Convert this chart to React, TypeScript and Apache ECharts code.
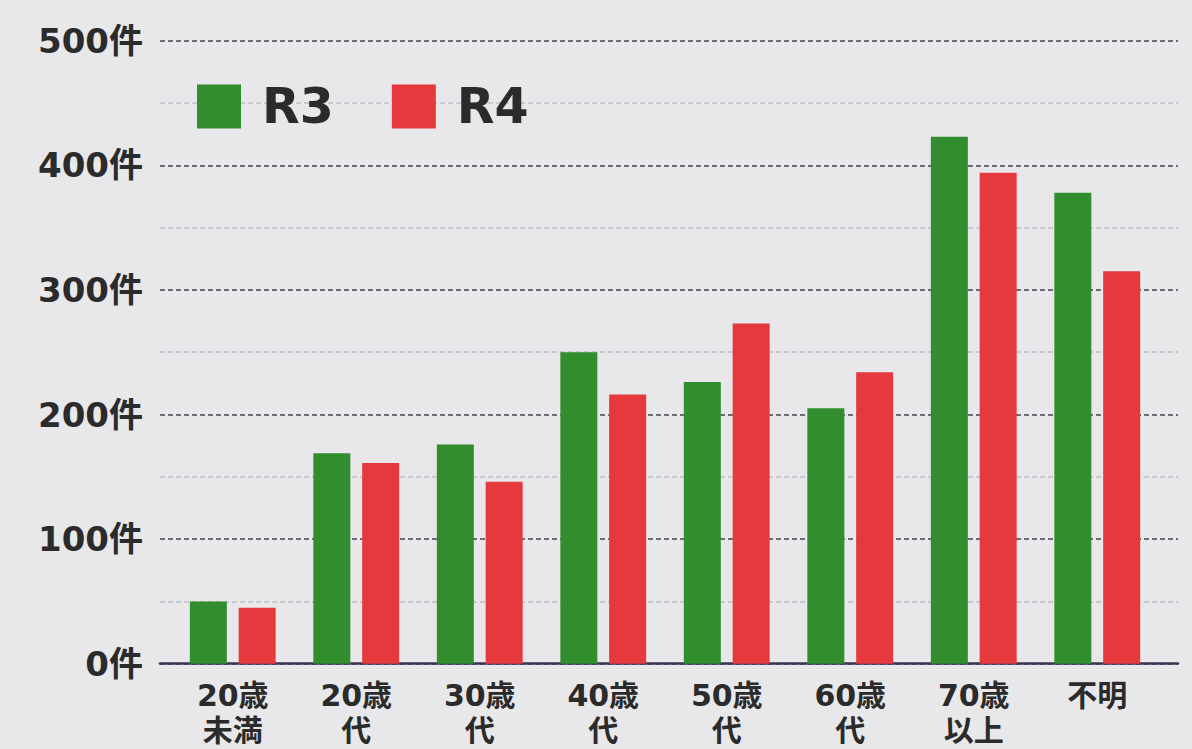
import React, { useEffect, useRef } from "react";
import * as echarts from "echarts";

const categories = ["20歳\n未満", "20歳\n代", "30歳\n代", "40歳\n代", "50歳\n代", "60歳\n代", "70歳\n以上", "不明"];
const seriesNames = ["R3", "R4"];
const r3Values = [50, 169, 176, 250, 226, 205, 423, 378];
const r4Values = [45, 161, 146, 216, 273, 234, 394, 315];
const yTicks = [0, 100, 200, 300, 400, 500];

const GREEN = "#318d2d";
const RED = "#e5393e";
const TEXT = "#2b2b2b";
const FONT = "'DejaVu Sans', 'Noto Sans CJK JP', sans-serif";

export default function App() {
  const ref = useRef<HTMLDivElement>(null);
  useEffect(() => {
    if (!ref.current) return;
    const chart = echarts.init(ref.current, undefined, { renderer: "svg" });
    const yMin = yTicks[0];
    const yMax = yTicks[yTicks.length - 1];
    chart.setOption({
      animation: false,
      backgroundColor: "#e8e8ea",
      textStyle: { fontFamily: FONT },
      legend: {
        data: seriesNames,
        left: 197,
        top: 82,
        padding: 0,
        itemWidth: 44,
        itemHeight: 44,
        itemGap: 58,
        icon: "rect",
        textStyle: { fontSize: 49, fontWeight: "bold", color: TEXT, fontFamily: FONT, padding: [0, 0, 0, 16] },
      },
      grid: [
        { left: 160, right: 14, top: 40.7, bottom: 85.3, outerBoundsMode: "none", containLabel: false },
        { left: 171, right: 33, top: 40.7, bottom: 85.3, outerBoundsMode: "none", containLabel: false },
      ],
      xAxis: [
        {
          gridIndex: 0,
          type: "value",
          min: 0,
          max: 1,
          axisLine: { show: true, onZero: false, lineStyle: { color: "#3b3553", width: 2.5 } },
          axisTick: { show: false },
          axisLabel: { show: false },
          splitLine: { show: false },
        },
        {
          gridIndex: 1,
          type: "category",
          data: categories,
          axisLine: { show: false },
          axisTick: { show: false },
          axisLabel: {
            fontSize: 30,
            lineHeight: 35,
            fontWeight: "bold",
            color: TEXT,
            fontFamily: FONT,
            margin: 14,
          },
        },
      ],
      yAxis: [
        {
          gridIndex: 0,
          type: "value",
          min: yMin,
          max: yMax,
          interval: 100,
          axisLine: { show: false },
          axisTick: { show: false },
          axisLabel: {
            formatter: (v: number) => `${v}件`,
            fontSize: 34,
            fontWeight: "bold",
            color: TEXT,
            fontFamily: FONT,
            margin: 17,
          },
          splitLine: { show: true, lineStyle: { color: "#6e6a78", width: 2, type: [5, 3] } },
          minorTick: { show: false, splitNumber: 2 },
          minorSplitLine: { show: true, lineStyle: { color: "#c0bfc6", width: 1.5, type: [5, 3] } },
        },
        {
          gridIndex: 1,
          type: "value",
          min: yMin,
          max: yMax,
          interval: 100,
          show: false,
          splitLine: { show: false },
        },
      ],
      series: [
        {
          name: seriesNames[0],
          type: "bar",
          xAxisIndex: 1,
          yAxisIndex: 1,
          data: r3Values,
          barWidth: 37,
          barGap: "32%",
          itemStyle: { color: GREEN },
        },
        {
          name: seriesNames[1],
          type: "bar",
          xAxisIndex: 1,
          yAxisIndex: 1,
          data: r4Values,
          barWidth: 37,
          barGap: "32%",
          itemStyle: { color: RED },
        },
      ],
    });
    return () => chart.dispose();
  }, []);
  return (
    <div
      ref={ref}
      style={{ position: "fixed", left: 0, top: 0, width: 1192, height: 749 }}
    />
  );
}
